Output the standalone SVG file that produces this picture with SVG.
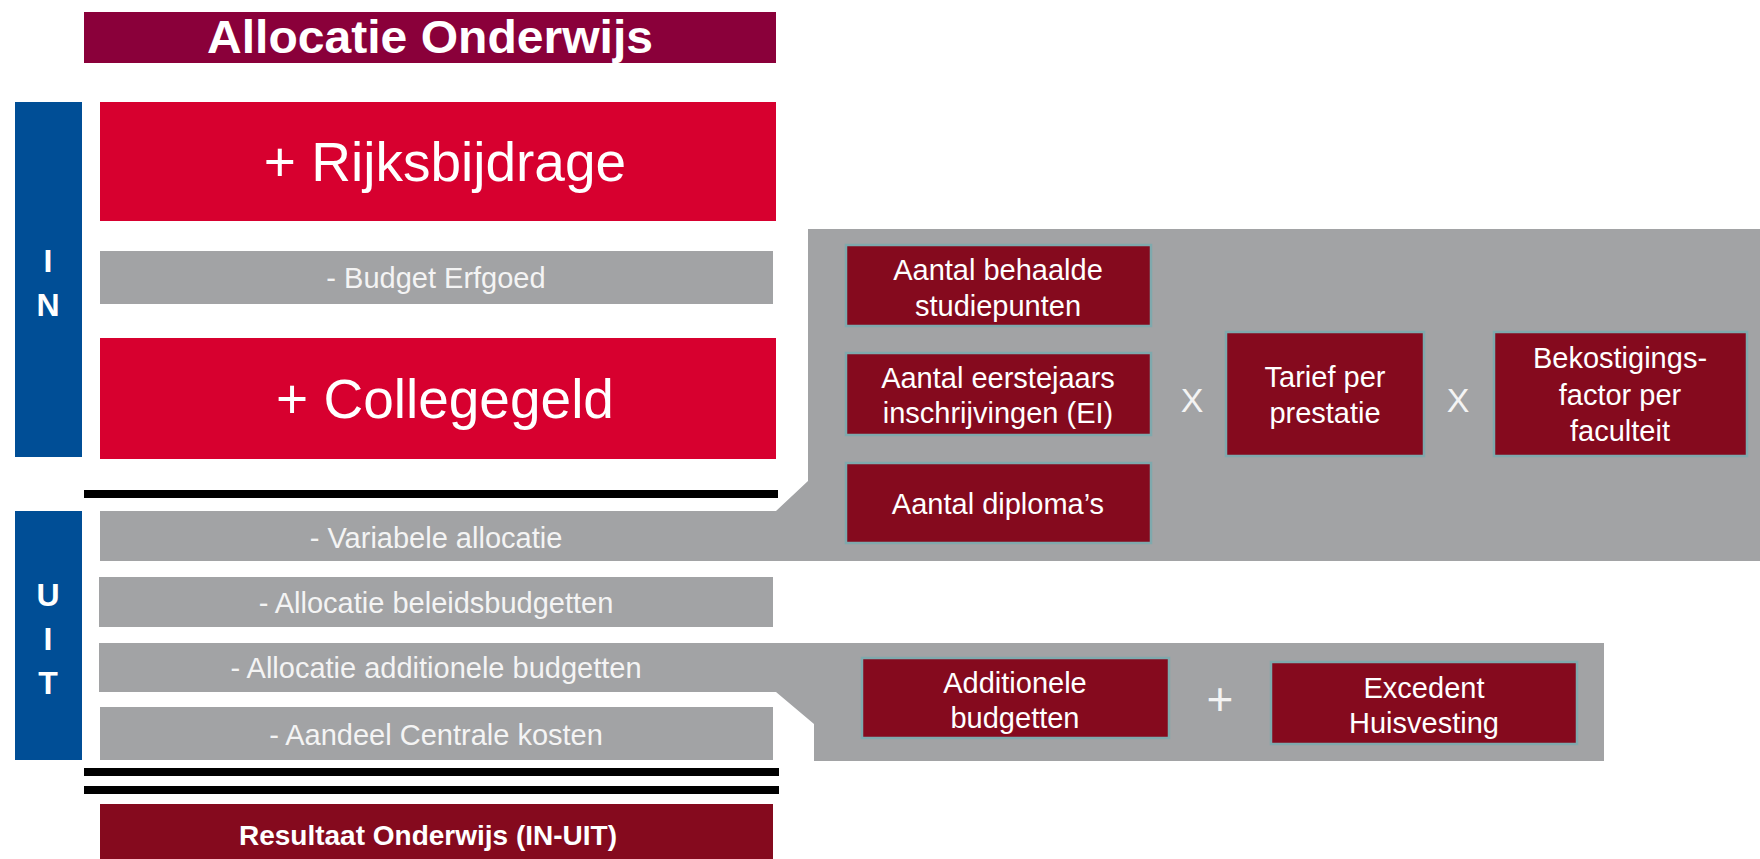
<svg xmlns="http://www.w3.org/2000/svg" width="1760" height="859" viewBox="0 0 1760 859">
<style>
text{font-family:"Liberation Sans",Arial,sans-serif;fill:#ffffff;text-anchor:middle}
.title{font-weight:bold;font-size:46px}
.big{font-size:55px}
.gt{font-size:29px;fill:#f4f4f4}
.bt{font-size:29px}
.side{font-weight:bold;font-size:32px}
.op{font-size:34px;fill:#f4f4f4}
.plus{font-size:46px;fill:#f4f4f4}
.res{font-weight:bold;font-size:28px}
.red{fill:#d7002f}
.gray{fill:#a2a3a5}
.blue{fill:#004e96}
.dbox{fill:#850a1e;stroke:#7fa9ad;stroke-width:2.5}
.sep{fill:#000000}
</style>
<rect width="1760" height="859" fill="#ffffff"/>

<g id="title">
<rect x="84" y="12" width="692" height="51" fill="#8a003a"/>
<text class="title" x="430" y="53" textLength="446" lengthAdjust="spacingAndGlyphs">Allocatie Onderwijs</text>
</g>

<g id="in-bar">
<rect class="blue" x="15" y="102" width="67" height="355"/>
<text class="side" x="48" y="272">I</text>
<text class="side" x="48" y="316">N</text>
</g>

<g id="uit-bar">
<rect class="blue" x="15" y="511" width="67" height="249"/>
<text class="side" x="48" y="606">U</text>
<text class="side" x="48" y="650">I</text>
<text class="side" x="48" y="694">T</text>
</g>

<g id="rijksbijdrage">
<rect class="red" x="100" y="102" width="676" height="119"/>
<text class="big" x="445" y="181">+ Rijksbijdrage</text>
</g>

<g id="budget-erfgoed">
<rect class="gray" x="100" y="251" width="673" height="53"/>
<text class="gt" x="436" y="288">- Budget Erfgoed</text>
</g>

<g id="collegegeld">
<rect class="red" x="100" y="338" width="676" height="121"/>
<text class="big" x="445" y="418">+ Collegegeld</text>
</g>

<g id="variabele-allocatie">
<path class="gray" d="M100 511 L776 511 L808 481 L808 229 L1760 229 L1760 561 L100 561 Z"/>
<text class="gt" x="436" y="548">- Variabele allocatie</text>
</g>

<g id="studiepunten">
<rect class="dbox" x="846" y="245" width="305" height="81"/>
<text class="bt" x="998" y="280">Aantal behaalde</text>
<text class="bt" x="998" y="316">studiepunten</text>
</g>

<g id="eerstejaars">
<rect class="dbox" x="846" y="353" width="305" height="82"/>
<text class="bt" x="998" y="388">Aantal eerstejaars</text>
<text class="bt" x="998" y="423">inschrijvingen (EI)</text>
</g>

<g id="diplomas">
<rect class="dbox" x="846" y="463" width="305" height="80"/>
<text class="bt" x="998" y="514">Aantal diploma’s</text>
</g>

<g id="op-x1"><text class="op" x="1192" y="412">X</text></g>

<g id="tarief">
<rect class="dbox" x="1226" y="332" width="198" height="124"/>
<text class="bt" x="1325" y="387">Tarief per</text>
<text class="bt" x="1325" y="423">prestatie</text>
</g>

<g id="op-x2"><text class="op" x="1458" y="412">X</text></g>

<g id="bekostigingsfactor">
<rect class="dbox" x="1494" y="332" width="253" height="124"/>
<text class="bt" x="1620" y="368">Bekostigings-</text>
<text class="bt" x="1620" y="405">factor per</text>
<text class="bt" x="1620" y="441">faculteit</text>
</g>

<g id="beleidsbudgetten">
<rect class="gray" x="99" y="577" width="674" height="50"/>
<text class="gt" x="436" y="613">- Allocatie beleidsbudgetten</text>
</g>

<g id="additionele-allocatie">
<path class="gray" d="M99 643 L1604 643 L1604 761 L814 761 L814 724 L776 692 L99 692 Z"/>
<text class="gt" x="436" y="678">- Allocatie additionele budgetten</text>
</g>

<g id="additionele-budgetten">
<rect class="dbox" x="862" y="658" width="307" height="80"/>
<text class="bt" x="1015" y="693">Additionele</text>
<text class="bt" x="1015" y="728">budgetten</text>
</g>

<g id="op-plus"><text class="plus" x="1220" y="715">+</text></g>

<g id="excedent-huisvesting">
<rect class="dbox" x="1271" y="662" width="306" height="82"/>
<text class="bt" x="1424" y="698">Excedent</text>
<text class="bt" x="1424" y="733">Huisvesting</text>
</g>

<g id="centrale-kosten">
<rect class="gray" x="100" y="707" width="673" height="53"/>
<text class="gt" x="436" y="745">- Aandeel Centrale kosten</text>
</g>

<g id="connectors">
<rect class="sep" x="84" y="490" width="694" height="8"/>
<rect class="sep" x="84" y="768" width="695" height="8"/>
<rect class="sep" x="84" y="786" width="695" height="8"/>
</g>

<g id="resultaat">
<rect x="100" y="804" width="673" height="55" fill="#850a1e"/>
<text class="res" x="428" y="845">Resultaat Onderwijs (IN-UIT)</text>
</g>
</svg>
